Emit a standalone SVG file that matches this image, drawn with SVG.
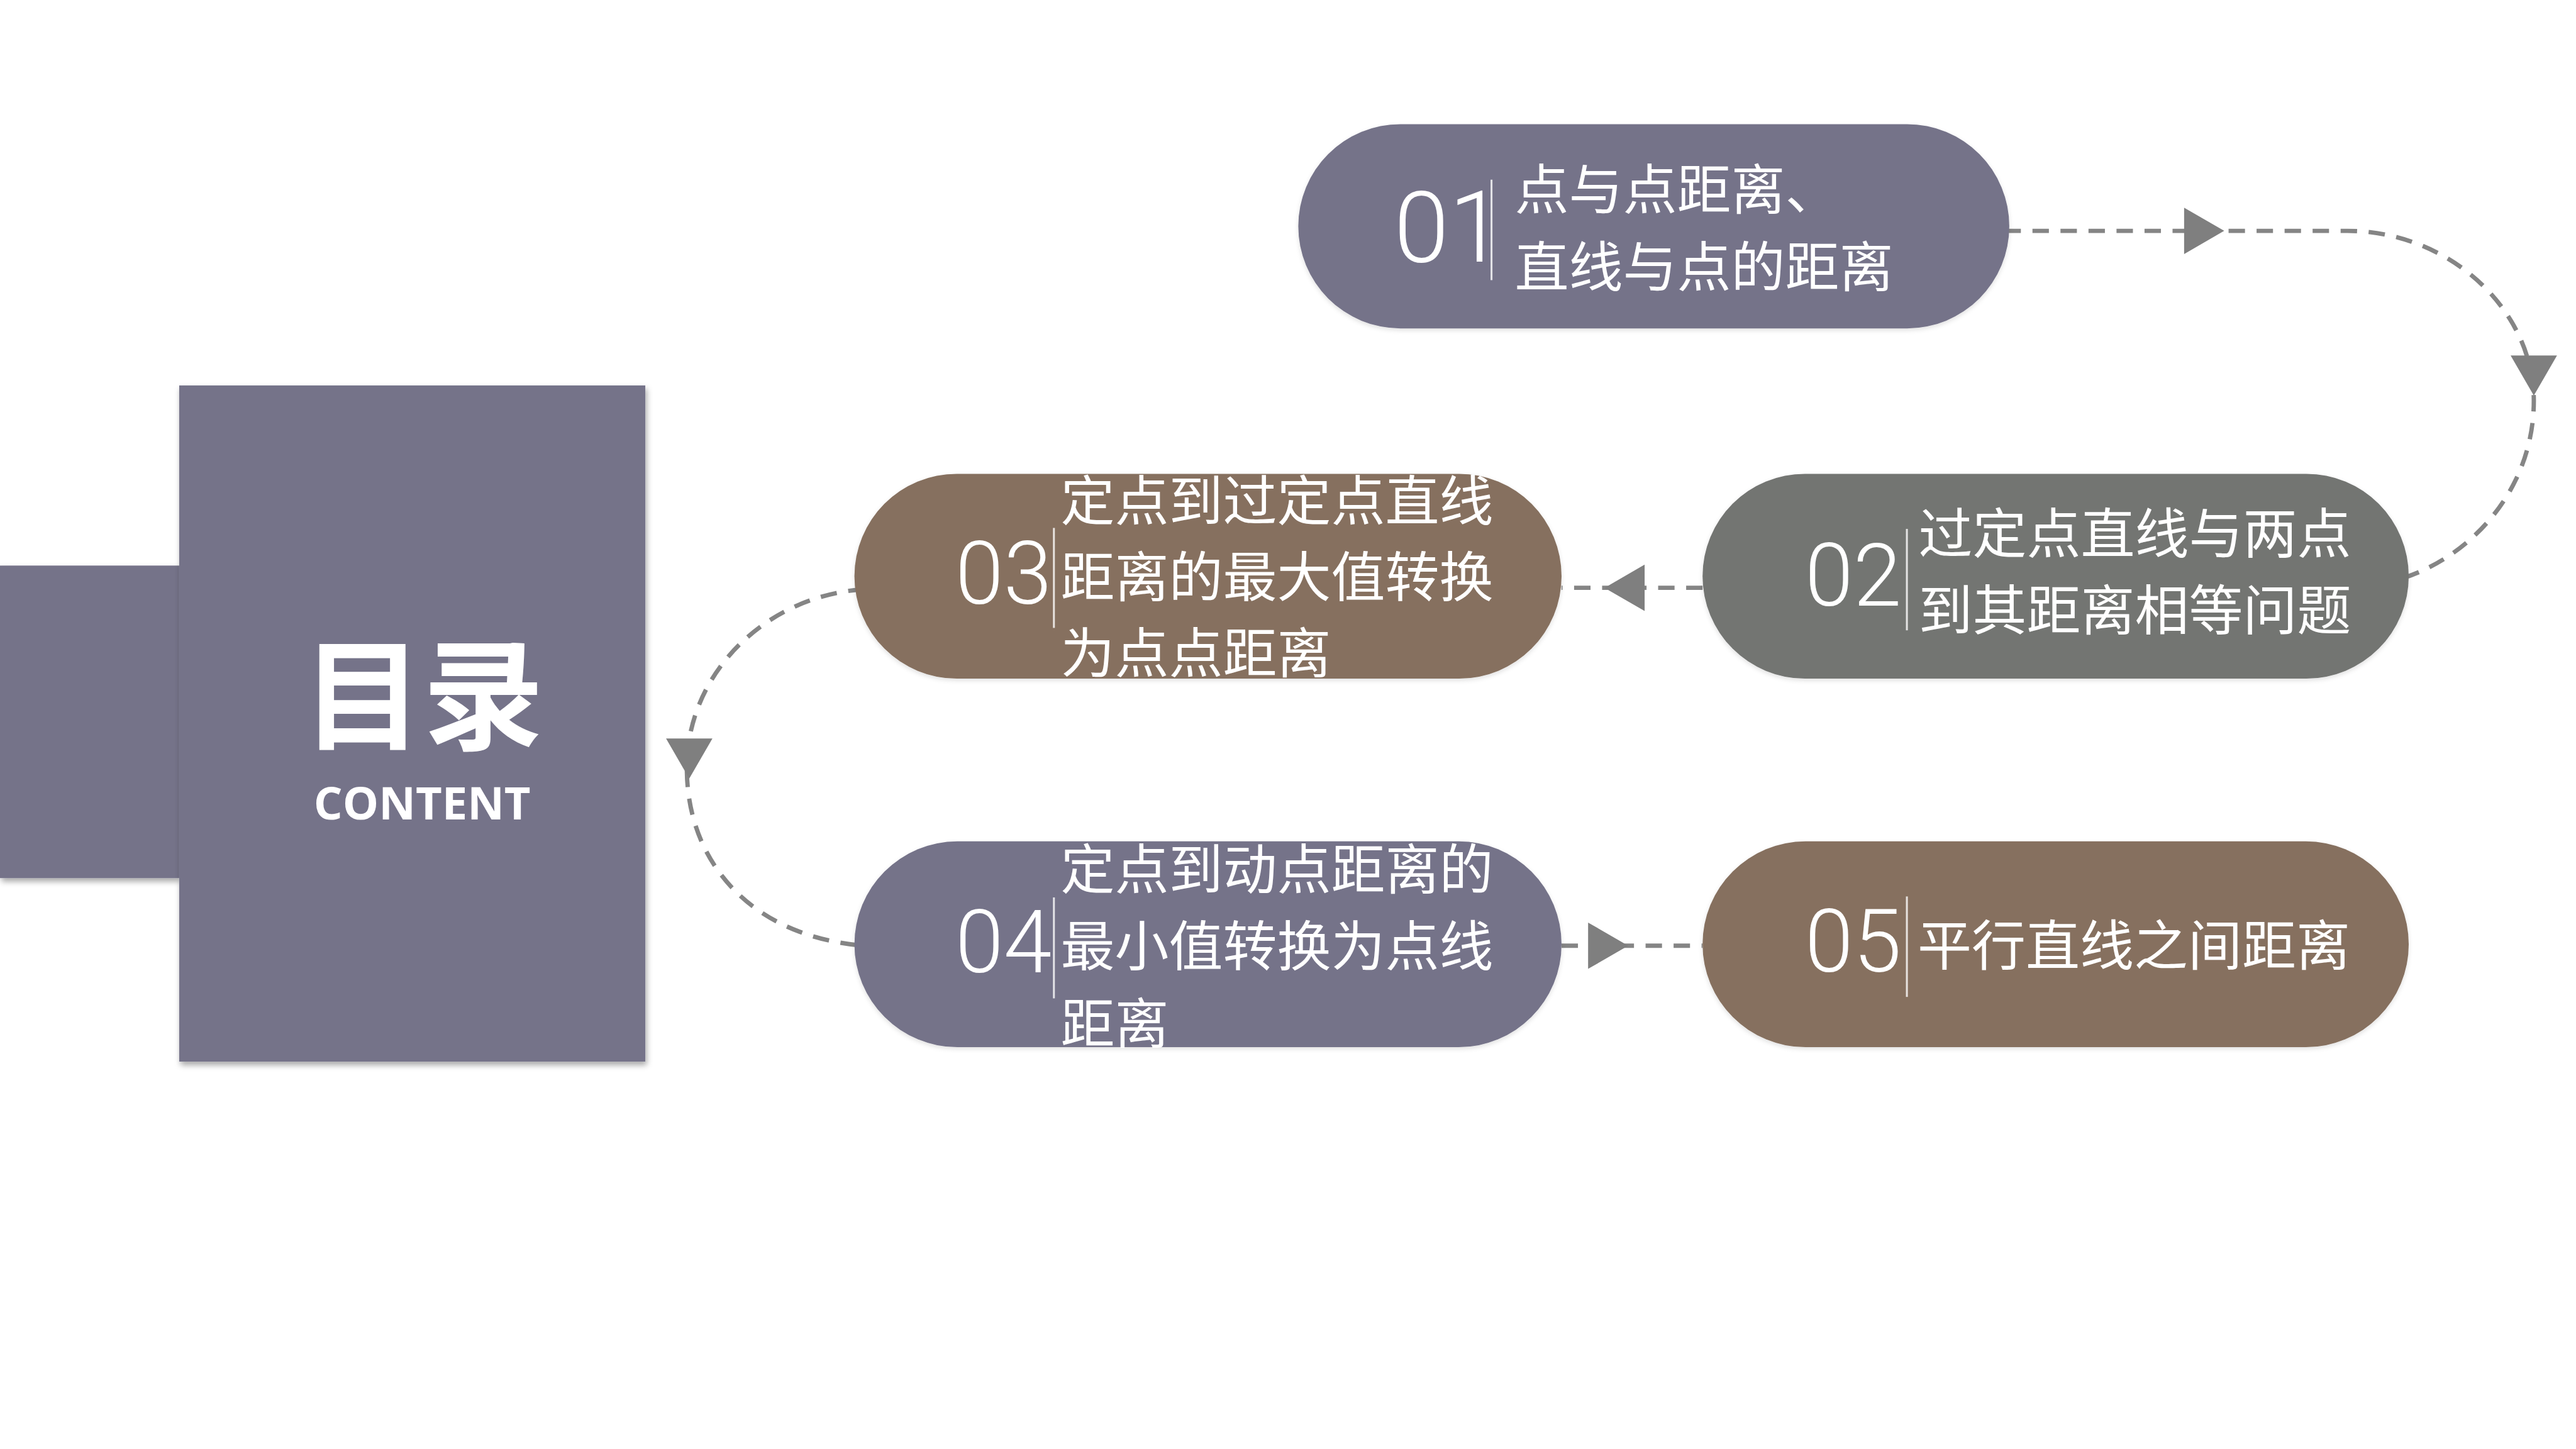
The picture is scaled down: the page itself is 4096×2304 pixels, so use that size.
<svg xmlns="http://www.w3.org/2000/svg" xmlns:xlink="http://www.w3.org/1999/xlink" width="4096" height="2304" viewBox="0 0 4096 2304">
  <defs>
    <filter id="shadow" x="-10%" y="-10%" width="130%" height="130%">
      <feDropShadow dx="3" dy="7" stdDeviation="6" flood-color="#000" flood-opacity="0.35"/>
    </filter>
    <filter id="pshadow" x="-5%" y="-10%" width="110%" height="130%">
      <feDropShadow dx="0" dy="4" stdDeviation="5" flood-color="#000" flood-opacity="0.12"/>
    </filter>
    <path id="tri" d="M0,-48 L83,0 L0,48 Z"/>
    <style>
      .purple { fill: #757389; }
      .brown { fill: #86705E; }
      .gray { fill: #737472; }
      .pill { filter: url(#pshadow); }
      .num { font-family: Roboto, "Liberation Sans", sans-serif; font-weight: 300; fill: #ffffff; }
      .lbl { font-family: "Noto Sans CJK SC", sans-serif; font-weight: 400; font-size: 112px; fill: #ffffff; }
      .div { stroke: #ffffff; stroke-opacity: 0.8; stroke-width: 4; }
      .conn { fill: none; stroke: #858585; stroke-width: 9; stroke-dasharray: 34 24; }
      .arrow { fill: #7f7f7f; }
    </style>
  </defs>
  <rect width="4096" height="2304" fill="#ffffff"/>
  <g transform="scale(0.768)">
    <g id="connectors">
      <path class="conn" d="M4150,478 H4860 C5070,478 5246,640 5246,830 C5246,1010 5120,1150 4975,1197"/>
      <path class="conn" d="M3525,1217 H3233"/>
      <path class="conn" d="M1790,1220 C1590,1232 1422,1390 1422,1590 C1422,1790 1560,1940 1790,1958"/>
      <path class="conn" d="M3233,1958 H3525"/>
      <use href="#tri" class="arrow" transform="translate(4522,478)"/>
      <use href="#tri" class="arrow" transform="translate(5246,736) rotate(90)"/>
      <use href="#tri" class="arrow" transform="translate(3405,1217) rotate(180)"/>
      <use href="#tri" class="arrow" transform="translate(1427,1529) rotate(90)"/>
      <use href="#tri" class="arrow" transform="translate(3288,1958)"/>
    </g>
    <g id="node-content">
      <rect class="purple" x="0" y="1171" width="371" height="647" filter="url(#shadow)"/>
      <rect class="purple" x="371" y="798" width="965" height="1400" filter="url(#shadow)"/>
      <text x="876" y="1532" text-anchor="middle" font-family="'Noto Sans CJK SC', sans-serif" font-weight="700" font-size="250" fill="#ffffff">目录</text>
      <text x="874" y="1697" text-anchor="middle" font-family="'Open Sans', 'Liberation Sans', sans-serif" font-weight="700" font-size="94" fill="#ffffff">CONTENT</text>
    </g>
    <g id="node-01">
      <rect class="purple pill" x="2688" y="257" width="1472" height="423" rx="211.5"/>
      <text class="num" x="2886" y="542" font-size="205">01</text>
      <line class="div" x1="3088" y1="372" x2="3088" y2="580"/>
      <text class="lbl"><tspan x="3136" y="433">点与点距离、</tspan><tspan x="3136" y="594">直线与点的距离</tspan></text>
    </g>
    <g id="node-02">
      <rect class="gray pill" x="3525" y="981" width="1462" height="424" rx="212"/>
      <text class="num" x="3737" y="1254" font-size="180">02</text>
      <line class="div" x1="3948" y1="1095" x2="3948" y2="1305"/>
      <text class="lbl"><tspan x="3972" y="1146">过定点直线与两点</tspan><tspan x="3972" y="1305">到其距离相等问题</tspan></text>
    </g>
    <g id="node-03">
      <rect class="brown pill" x="1769" y="981" width="1464" height="424" rx="212"/>
      <text class="num" x="1978" y="1250" font-size="180">03</text>
      <line class="div" x1="2182" y1="1093" x2="2182" y2="1300"/>
      <text class="lbl"><tspan x="2196" y="1078">定点到过定点直线</tspan><tspan x="2196" y="1236">距离的最大值转换</tspan><tspan x="2196" y="1393">为点点距离</tspan></text>
    </g>
    <g id="node-04">
      <rect class="purple pill" x="1769" y="1742" width="1464" height="426" rx="213"/>
      <text class="num" x="1978" y="2013" font-size="180">04</text>
      <line class="div" x1="2182" y1="1858" x2="2182" y2="2067"/>
      <text class="lbl"><tspan x="2196" y="1841">定点到动点距离的</tspan><tspan x="2196" y="2000">最小值转换为点线</tspan><tspan x="2196" y="2160">距离</tspan></text>
    </g>
    <g id="node-05">
      <rect class="brown pill" x="3525" y="1742" width="1462" height="426" rx="213"/>
      <text class="num" x="3737" y="2012" font-size="180">05</text>
      <line class="div" x1="3948" y1="1856" x2="3948" y2="2064"/>
      <text class="lbl"><tspan x="3970" y="1999">平行直线之间距离</tspan></text>
    </g>
  </g>
</svg>
